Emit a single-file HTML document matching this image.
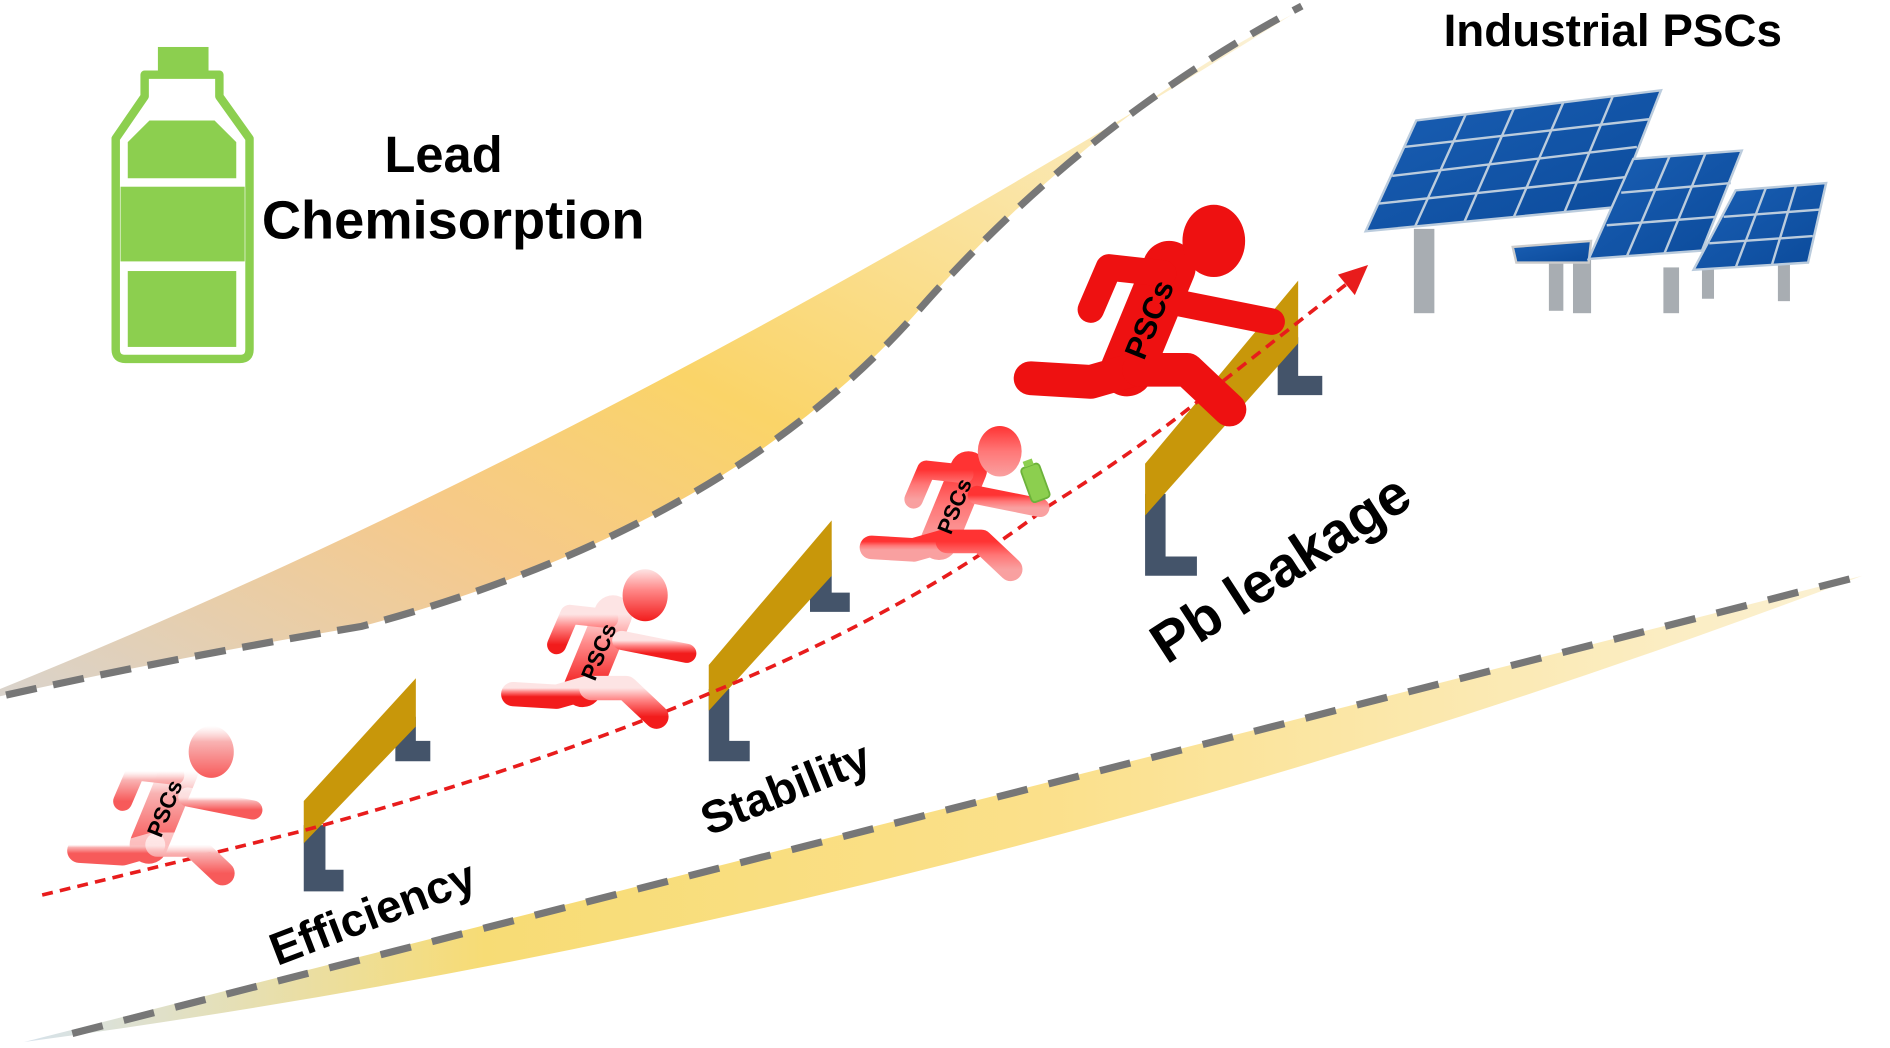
<!DOCTYPE html>
<html><head><meta charset="utf-8"><style>html,body{margin:0;padding:0;background:#fff}svg{display:block}</style></head><body>
<svg width="1890" height="1048" viewBox="0 0 1568 870" preserveAspectRatio="none" xmlns="http://www.w3.org/2000/svg" font-family="Liberation Sans, sans-serif" font-weight="bold">
<defs>
<linearGradient id="yb1" x1="0" y1="1" x2="1" y2="0">
<stop offset="0" stop-color="#d9d3cc"/><stop offset="0.3" stop-color="#f6c98a"/><stop offset="0.5" stop-color="#fad468"/><stop offset="1" stop-color="#fbf3dc"/></linearGradient>
<linearGradient id="yb2" x1="0" y1="0" x2="1" y2="0">
<stop offset="0" stop-color="#d6e2ec"/><stop offset="0.25" stop-color="#f7dc75"/><stop offset="0.55" stop-color="#fbe08a"/><stop offset="1" stop-color="#fbf1d4"/></linearGradient>
<linearGradient id="r1" x1="0" y1="0" x2="0" y2="1"><stop offset="0" stop-color="#fff" stop-opacity="0.6"/><stop offset="0.3" stop-color="#f9b3b3"/><stop offset="1" stop-color="#f75a5a"/></linearGradient>
<linearGradient id="r2" x1="0" y1="0" x2="0" y2="1"><stop offset="0" stop-color="#fde4e4"/><stop offset="0.4" stop-color="#f88"/><stop offset="1" stop-color="#f21c1c"/></linearGradient>
<linearGradient id="r3" x1="0" y1="0" x2="0" y2="1"><stop offset="0" stop-color="#f33"/><stop offset="0.5" stop-color="#f77"/><stop offset="1" stop-color="#f9a0a0"/></linearGradient>
<linearGradient id="pnl" x1="0" y1="0" x2="1" y2="1"><stop offset="0" stop-color="#1a5fb4"/><stop offset="1" stop-color="#0b4a9a"/></linearGradient>
<g id="runner">
<g fill="none" stroke-linecap="round" stroke-linejoin="round">
<path d="M5 0 L-30 85" stroke-width="44"/>
<path d="M0 5 L-45 0 L-60 35" stroke-width="22"/>
<path d="M15 30 L90 45" stroke-width="22"/>
<path d="M-25 85 L-60 95 L-110 92" stroke-width="28"/>
<path d="M-20 85 L20 85 L55 118" stroke-width="28"/>
</g>
<ellipse cx="42" cy="-22" rx="26" ry="30" stroke="none"/>
<text x="0" y="0" transform="translate(-16,78) rotate(-68)" font-size="26" fill="#000" stroke="none">PSCs</text>
</g>
</defs>

<!-- upper band -->
<path d="M0 572 Q500 370 1072 12 Q900 100 760 260 Q600 440 300 520 Q150 545 0 578 Z" fill="url(#yb1)"/>
<path d="M5 577 Q150 545 300 520 Q600 440 760 260 Q900 100 1080 5" fill="none" stroke="#777" stroke-width="6" stroke-dasharray="26,14"/>
<!-- lower band -->
<path d="M20 865 L1545 478 Q800 760 20 865 Z" fill="url(#yb2)"/>
<path d="M60 858 L1545 478" fill="none" stroke="#777" stroke-width="6" stroke-dasharray="26,18"/>

<!-- bottle -->
<g fill="none" stroke="#8ccf4f" stroke-width="7">
<rect x="131" y="39" width="42" height="20" fill="#8ccf4f" stroke="none"/>
<path d="M120 62 H182 V80 L207 115 V290 Q207 298 199 298 H104 Q96 298 96 290 V115 L120 80 Z" stroke-linejoin="round"/>
</g>
<path d="M106 118 L124 100 H178 L196 118 V148 H106 Z" fill="#8ccf4f"/>
<rect x="106" y="225" width="90" height="63" fill="#8ccf4f"/>
<rect x="100" y="155" width="103" height="62" fill="#8ccf4f"/>

<text x="368" y="143" font-size="42" text-anchor="middle">Lead</text>
<text x="376" y="198" font-size="45" text-anchor="middle">Chemisorption</text>
<text x="1338" y="38" font-size="38" text-anchor="middle">Industrial PSCs</text>

<!-- solar panels -->
<g fill="#a8adb2">
<rect x="1173" y="190" width="17" height="70"/><rect x="1285" y="210" width="12" height="48"/><rect x="1305" y="205" width="15" height="55"/><rect x="1380" y="222" width="13" height="38"/><rect x="1412" y="222" width="10" height="26"/><rect x="1475" y="215" width="10" height="35"/>
</g>
<polygon points="1255,205 1320,200 1318,218 1258,218" fill="url(#pnl)" stroke="#ccc" stroke-width="2"/>
<g stroke="#bcd" stroke-width="2">
<polygon points="1175,100 1378,75 1340,172 1133,192" fill="url(#pnl)"/>
<line x1="1165" y1="122" x2="1368" y2="99"/><line x1="1155" y1="146" x2="1358" y2="122"/><line x1="1144" y1="169" x2="1349" y2="147"/>
<line x1="1216" y1="95" x2="1174" y2="188"/><line x1="1256" y1="90" x2="1215" y2="184"/><line x1="1297" y1="85" x2="1256" y2="180"/><line x1="1338" y1="80" x2="1298" y2="176"/>
<polygon points="1355,132 1445,125 1412,208 1318,215" fill="url(#pnl)"/>
<line x1="1345" y1="160" x2="1436" y2="152"/><line x1="1333" y1="187" x2="1424" y2="180"/><line x1="1385" y1="130" x2="1350" y2="212"/><line x1="1415" y1="127" x2="1381" y2="210"/>
<polygon points="1440,158 1515,152 1500,218 1405,224" fill="url(#pnl)"/>
<line x1="1430" y1="180" x2="1510" y2="174"/><line x1="1418" y1="202" x2="1504" y2="196"/><line x1="1465" y1="156" x2="1440" y2="222"/><line x1="1490" y1="154" x2="1470" y2="220"/>
</g>

<!-- hurdles -->
<g fill="#44546a">
<path d="M252 685 H270 V722 H285 V740 H252 Z"/><path d="M328 595 H345 V615 H357 V632 H328 Z"/>
<path d="M588 572 H605 V615 H622 V632 H588 Z"/><path d="M672 465 H690 V492 H705 V508 H672 Z"/>
<path d="M950 410 H967 V462 H993 V478 H950 Z"/><path d="M1060 280 H1077 V312 H1097 V328 H1060 Z"/>
</g>
<g fill="#c8970a">
<polygon points="252,665 345,563 345,603 252,700"/>
<polygon points="588,552 690,432 690,478 588,590"/>
<polygon points="950,385 1077,233 1077,285 950,428"/>
</g>

<!-- path -->
<path d="M35 743 Q150 715 250 690 Q450 635 590 575 Q760 505 870 420 Q950 370 1010 320 Q1080 265 1122 232" fill="none" stroke="#e81c1c" stroke-width="3" stroke-dasharray="9,6"/>
<polygon points="1135,220 1110,228 1124,245" fill="#e81c1c"/>

<!-- runners -->
<use href="#runner" transform="translate(145,640) scale(0.72)" fill="url(#r1)" stroke="url(#r1)"/>
<use href="#runner" transform="translate(505,510) scale(0.72)" fill="url(#r2)" stroke="url(#r2)"/>
<use href="#runner" transform="translate(800,390) scale(0.7)" fill="url(#r3)" stroke="url(#r3)"/>
<use href="#runner" transform="translate(965,222)" fill="#ee1111" stroke="#ee1111"/>
<!-- small bottle -->
<g transform="translate(858,398) rotate(-20)"><rect x="-8" y="-12" width="16" height="30" rx="3" fill="#8ccf4f" stroke="#6cb23a" stroke-width="1.5"/><rect x="-4" y="-17" width="8" height="5" fill="#8ccf4f"/></g>

<text transform="translate(230,802) rotate(-21)" font-size="38">Efficiency</text>
<text transform="translate(588,694) rotate(-22)" font-size="38">Stability</text>
<text transform="translate(968,552) rotate(-33)" font-size="47">Pb leakage</text>
</svg>
</body></html>
